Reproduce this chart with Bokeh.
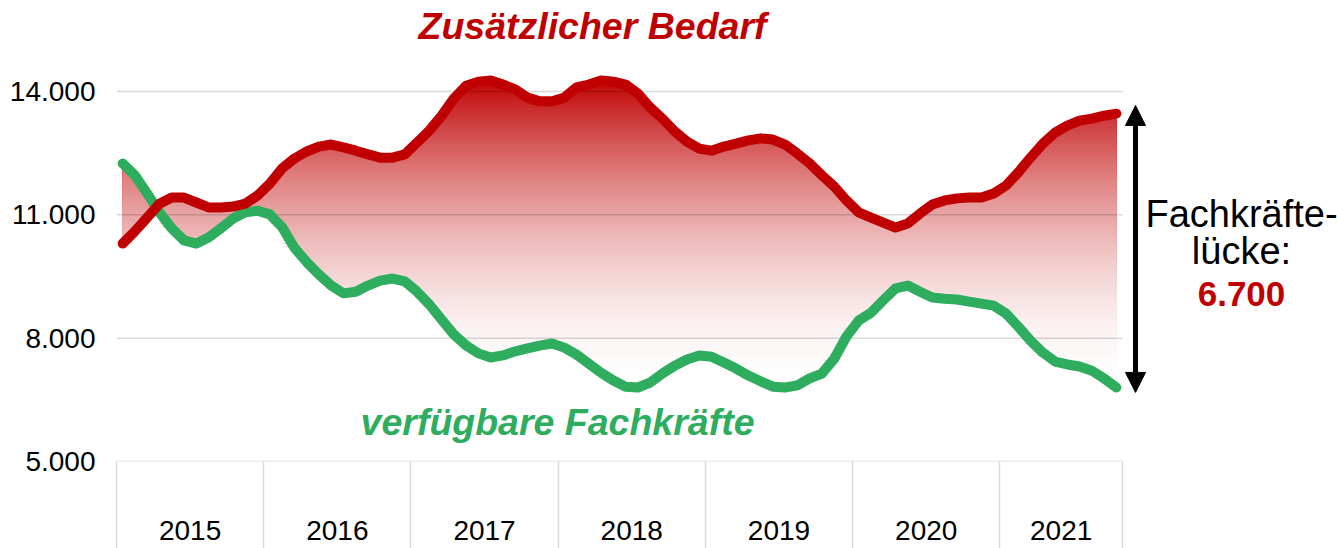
import numpy as np
from bokeh.plotting import figure
from bokeh.models import Range1d, FixedTicker, Label, Arrow, NormalHead
from bokeh.embed import file_html
from bokeh.resources import INLINE

# ---------------- data ----------------
years = ["2015", "2016", "2017", "2018", "2019", "2020", "2021"]
months_per_year = [12, 12, 12, 12, 12, 12, 10]

bedarf = [10300, 10600, 10930, 11270, 11420, 11420, 11300, 11180, 11180, 11200, 11270, 11470,
          11760, 12130, 12370, 12540, 12660, 12710, 12640, 12560, 12470, 12390, 12390, 12470,
          12760, 13050, 13410, 13830, 14140, 14240, 14270, 14170, 14050, 13850, 13760, 13760,
          13850, 14100, 14170, 14270, 14240, 14170, 13950, 13610, 13340, 13030, 12780, 12610,
          12560, 12660, 12730, 12810, 12860, 12830, 12710, 12490, 12250, 11960, 11690, 11350,
          11060, 10930, 10810, 10690, 10790, 11030, 11250, 11350, 11400, 11420, 11420, 11520,
          11710, 12030, 12390, 12730, 13000, 13170, 13290, 13340, 13410, 13460]

verfuegbar = [12250, 11960, 11520, 11060, 10670, 10380, 10300, 10450, 10670, 10910, 11060, 11100,
              11010, 10700, 10200, 9850, 9550, 9280, 9090, 9130, 9280, 9400, 9450, 9380,
              9130, 8820, 8450, 8090, 7820, 7630, 7530, 7580, 7680, 7750, 7820, 7870,
              7770, 7600, 7380, 7160, 6970, 6820, 6800, 6920, 7140, 7330, 7480, 7580,
              7550, 7410, 7260, 7090, 6950, 6820, 6800, 6850, 7020, 7140, 7500, 8040,
              8430, 8620, 8920, 9210, 9280, 9130, 8990, 8960, 8940, 8890, 8840, 8790,
              8600, 8280, 7940, 7650, 7430, 7360, 7310, 7210, 7020, 6800]

ytick_values = [5000, 8000, 11000, 14000]
ytick_labels = ["5.000", "8.000", "11.000", "14.000"]

title_bedarf = "Zusätzlicher Bedarf"
title_verf = "verfügbare Fachkräfte"
gap_text_1 = "Fachkräfte-"
gap_text_2 = "lücke:"
gap_value = "6.700"

RED = "#c00000"
GREEN = "#2fad5f"
FONT = "Liberation Sans"

# ---------------- figure ----------------
x = np.arange(len(bedarf), dtype=float)
r = np.array(bedarf, dtype=float)
g = np.array(verfuegbar, dtype=float)

bounds = np.concatenate([[0], np.cumsum(months_per_year)]) - 0.5
centers = (bounds[:-1] + bounds[1:]) / 2

px_per_month = 1006 / (bounds[-1] - bounds[0])
frame_w = 1337 - 116
x_end = bounds[0] + frame_w / px_per_month

p = figure(output_backend="svg", toolbar_location=None,
           x_range=Range1d(bounds[0], x_end), y_range=Range1d(5000, 16213),
           min_border=0)
p.frame_width = frame_w
p.frame_height = 461
p.min_border_left = 116
p.min_border_right = 0
p.min_border_top = 0
p.min_border_bottom = 87
p.outline_line_color = None
p.background_fill_color = "white"
p.border_fill_color = "white"

# gradient fill between the two lines (layered bands)
upper = np.maximum(r, g)
lower = np.minimum(r, g)
g_top, g_bot = 14320.0, 6730.0
step = 80.0
his = np.arange(14400.0, 6600.0, -step)
for hi in his:
    v = hi - step / 2
    t = min(max((g_top - v) / (g_top - g_bot), 0.0), 1.0)
    f = 1 - (1 - t) ** 1.8
    col = (int(round(192 + 63 * f)), int(round(255 * f)), int(round(255 * f)))
    p.varea(x=x, y1=np.minimum(lower, hi), y2=np.minimum(upper, hi),
            fill_color="#%02x%02x%02x" % col, level="image")

# horizontal gridlines limited to the category area
p.segment(x0=[bounds[0]] * len(ytick_values), x1=[bounds[-1]] * len(ytick_values),
          y0=ytick_values, y1=ytick_values, line_color="black", line_alpha=0.15,
          line_width=1.5, level="underlay")

# lines
p.line(x, g, line_color=GREEN, line_width=10, line_cap="round", line_join="round")
p.line(x, r, line_color=RED, line_width=10, line_cap="round", line_join="round")

# y axis
p.yaxis.ticker = FixedTicker(ticks=ytick_values)
p.yaxis.major_label_overrides = {v: s for v, s in zip(ytick_values, ytick_labels)}
p.yaxis.axis_line_color = None
p.yaxis.major_tick_line_color = None
p.yaxis.minor_tick_line_color = None
p.yaxis.major_tick_out = 0
p.yaxis.major_tick_in = 0
p.yaxis.major_label_standoff = 21
p.yaxis.major_label_text_font = FONT
p.yaxis.major_label_text_font_size = "28px"
p.yaxis.major_label_text_color = "black"
p.grid.visible = False

# x axis: year groups with separators (minor ticks)
p.xaxis.ticker = FixedTicker(ticks=list(centers), minor_ticks=list(bounds))
p.xaxis.major_label_overrides = {float(c): y for c, y in zip(centers, years)}
p.xaxis.axis_line_color = None
p.xaxis.major_tick_line_color = None
p.xaxis.minor_tick_line_color = "#d9d9d9"
p.xaxis.minor_tick_line_width = 1.5
p.xaxis.minor_tick_in = 0
p.xaxis.minor_tick_out = 87
p.xaxis.major_tick_out = 0
p.xaxis.major_tick_in = 0
p.xaxis.major_label_standoff = -28
p.xaxis.major_label_text_font = FONT
p.xaxis.major_label_text_font_size = "28px"
p.xaxis.major_label_text_color = "black"

# annotations
p.add_layout(Label(x=38.3, y=15581, text=title_bedarf, text_align="center", text_baseline="middle",
                   text_font=FONT, text_font_size="37.5px", text_font_style="bold italic",
                   text_color=RED))
p.add_layout(Label(x=35.45, y=5949, text=title_verf, text_align="center", text_baseline="middle",
                   text_font=FONT, text_font_size="37.5px", text_font_style="bold italic",
                   text_color=GREEN))
p.add_layout(Label(x=91.2, y=11032, text=gap_text_1, text_align="center", text_baseline="middle",
                   text_font=FONT, text_font_size="38px", text_color="black"))
p.add_layout(Label(x=91.2, y=10108, text=gap_text_2, text_align="center", text_baseline="middle",
                   text_font=FONT, text_font_size="38px", text_color="black"))
p.add_layout(Label(x=91.2, y=9086, text=gap_value, text_align="center", text_baseline="middle",
                   text_font=FONT, text_font_size="35px", text_font_style="bold",
                   text_color=RED))

ax = 82.56
p.add_layout(Arrow(x_start=ax, x_end=ax, y_start=g[-1] - 120, y_end=r[-1] + 200,
                   line_width=5, line_color="black",
                   start=NormalHead(size=20, fill_color="black", line_color="black"),
                   end=NormalHead(size=20, fill_color="black", line_color="black")))

open("out.html", "w").write(file_html(p, INLINE))
